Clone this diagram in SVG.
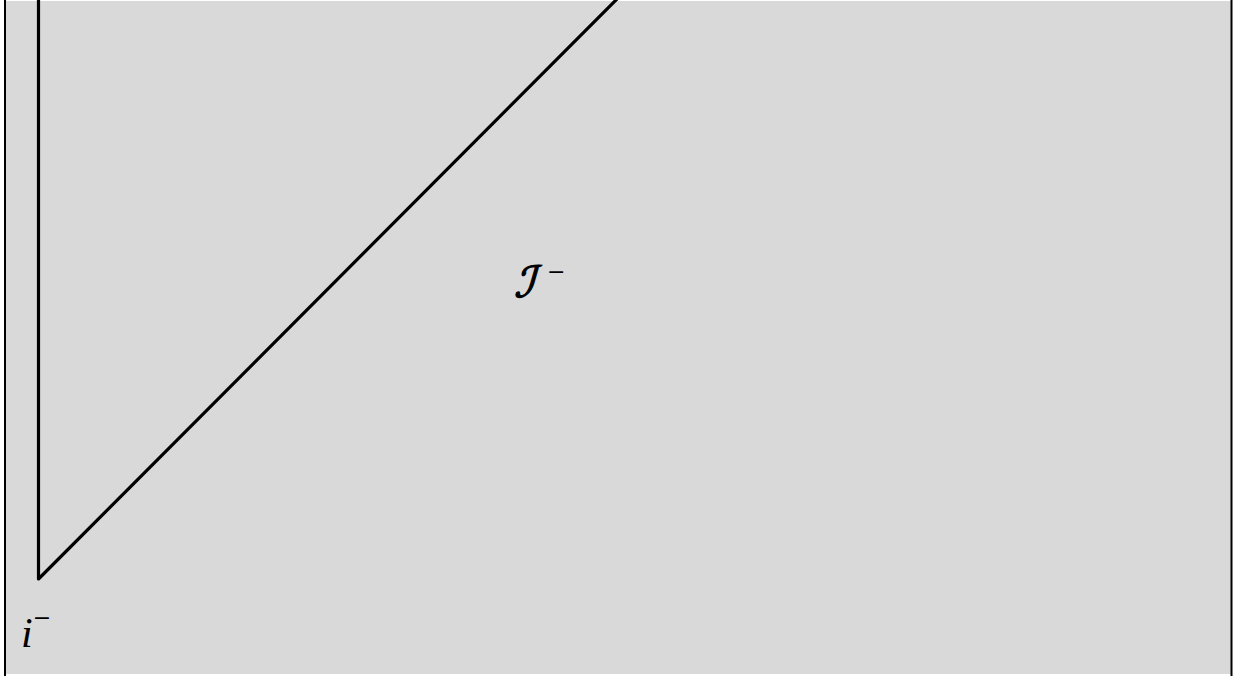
<svg xmlns="http://www.w3.org/2000/svg" width="1233" height="676" viewBox="0 0 1233 676">
<style>
.bg{fill:#d9d9d9}
.border{stroke:#000;stroke-width:2;fill:none}
.edge{stroke:#000;stroke-width:3.2;fill:none;stroke-linecap:round;stroke-linejoin:round}
.lbl{font-family:"Liberation Serif","DejaVu Serif",serif;font-style:italic;fill:#000}
.scr{font-family:"DejaVu Sans","Noto Sans",sans-serif;fill:#000;stroke:#000;stroke-width:1.2}
.sup{font-family:"DejaVu Sans",sans-serif;font-style:normal;stroke:none}
</style>
<rect width="1233" height="676" fill="#fff"/>
<rect class="bg" x="4" y="1" width="1228" height="673"/>
<line class="border" x1="5" y1="0" x2="5" y2="676"/>
<line class="border" x1="1231.5" y1="0" x2="1231.5" y2="676"/>
<g id="connectors">
<polyline class="edge" points="38.5,-2 38.5,579 618,-2"/>
</g>
<g id="scri">
<text class="scr" x="0" y="0" font-size="43" transform="translate(514,297) skewX(-16)">ℐ</text>
<text class="sup" x="547" y="279" font-size="22">−</text>
</g>
<g id="iminus">
<text class="lbl" x="21" y="647" font-size="42">i<tspan class="sup" font-size="22" dy="-22">−</tspan></text>
</g>
</svg>
